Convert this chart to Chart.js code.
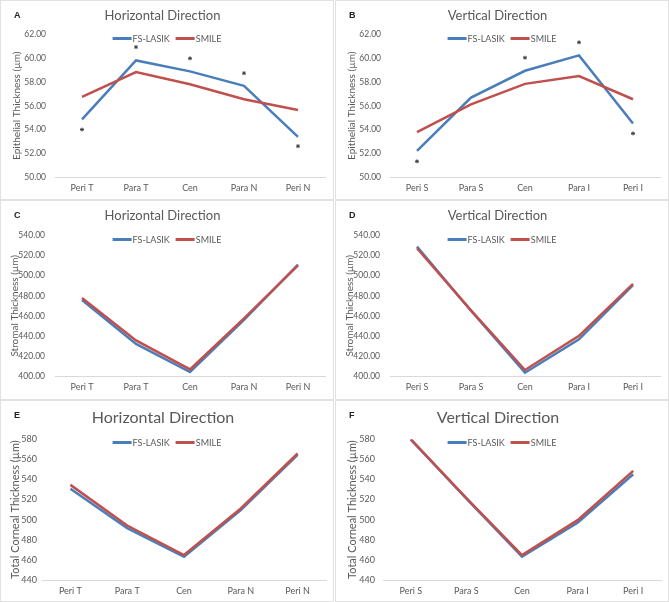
<!DOCTYPE html>
<html>
<head>
<meta charset="utf-8">
<script src="https://cdn.jsdelivr.net/npm/chart.js@4.4.0/dist/chart.umd.min.js"></script>
<style>
  body { margin: 0; background: #fff; }
  #fig { position: relative; width: 669px; height: 602px; overflow: hidden; background: #fff; }
  .frame { position: absolute; border: 1px solid #e2e2e2; box-sizing: border-box; }
  .tag { position: absolute; font: bold 9px 'Liberation Sans', Arial, sans-serif; color: #222; }
  canvas { position: absolute; }
  .legend { position: absolute; display: flex; align-items: center; transform: translateX(-50%);
            font: 9px Lato, 'Open Sans', sans-serif; color: #595959; white-space: nowrap; height: 12px; }
  .legend .sw { display: inline-block; width: 19px; height: 3px; margin-right: 1px; }
  .legend .item { display: flex; align-items: center; margin: 0 3px; }
</style>
</head>
<body>
<div id="fig"></div>
<script>
const horizontalLabels = ['Peri T', 'Para T', 'Cen', 'Para N', 'Peri N'];
const verticalLabels = ['Peri S', 'Para S', 'Cen', 'Para I', 'Peri I'];
const seriesNames = ['FS-LASIK', 'SMILE'];

// epithelial thickness (um)
const epiHorizLasik = [54.85, 59.82, 58.90, 57.68, 53.38];
const epiHorizSmile = [56.75, 58.84, 57.82, 56.55, 55.64];
const epiHorizStars = [54.00, 60.95, 60.00, 58.75, 52.60];
const epiVertLasik = [52.20, 56.69, 58.95, 60.25, 54.51];
const epiVertSmile = [53.78, 56.12, 57.85, 58.50, 56.55];
const epiVertStars = [51.32, null, 60.05, 61.35, 53.67];

// stromal thickness (um)
const stromaHorizLasik = [475.8, 432.0, 404.0, 455.9, 511.0];
const stromaHorizSmile = [477.8, 435.5, 406.6, 457.5, 510.4];
const stromaVertLasik = [529.0, 465.0, 403.3, 436.6, 490.5];
const stromaVertSmile = [527.4, 465.5, 406.0, 440.0, 491.8];

// total corneal thickness (um)
const totalHorizLasik = [530.7, 491.6, 463.1, 509.5, 564.4];
const totalHorizSmile = [534.6, 494.2, 464.8, 511.1, 565.8];
const totalVertLasik = [579.5, 521.0, 463.1, 496.9, 545.2];
const totalVertSmile = [580.0, 521.5, 464.8, 499.5, 548.5];

const epiTicks = { min: 50, max: 62, step: 2, dec: 2 };
const stromaTicks = { min: 400, max: 540, step: 20, dec: 2 };
const totalTicks = { min: 440, max: 580, step: 20, dec: 0 };

const GRAY = '#595959';
const BLUE = '#4a7ebb';
const RED = '#c0504d';
const FONT = 'Lato, "Open Sans", sans-serif';

const fig = document.getElementById('fig');

function addLegend(p) {
  const lg = document.createElement('div');
  lg.className = 'legend';
  lg.style.left = (p.x + p.w / 2) + 'px';
  lg.style.top = (p.y + p.legendY - 6) + 'px';
  lg.innerHTML = seriesNames.map((name, i) =>
    `<span class="item"><span class="sw" style="background:${i ? RED : BLUE}"></span>${name}</span>`).join('');
  fig.appendChild(lg);
}

function makePanel(p) {
  const frame = document.createElement('div');
  frame.className = 'frame';
  frame.style.cssText = `left:${p.x}px;top:${p.y}px;width:${p.w}px;height:${p.h}px`;
  fig.appendChild(frame);

  const canvas = document.createElement('canvas');
  canvas.width = p.w;
  canvas.height = p.h;
  canvas.style.cssText = `left:${p.x}px;top:${p.y}px;width:${p.w}px;height:${p.h}px`;
  fig.appendChild(canvas);

  const tag = document.createElement('div');
  tag.className = 'tag';
  tag.textContent = p.tag;
  tag.style.left = (p.x + 14) + 'px';
  tag.style.top = (p.y + 10) + 'px';
  fig.appendChild(tag);

  addLegend(p);

  const datasets = [
    { label: seriesNames[0], data: p.lasik, borderColor: BLUE, backgroundColor: BLUE, borderWidth: 2.5, pointRadius: 0, tension: 0, order: 2 },
    { label: seriesNames[1], data: p.smile, borderColor: RED, backgroundColor: RED, borderWidth: 2.5, pointRadius: 0, tension: 0, order: 1 }
  ];
  if (p.stars) {
    datasets.push({
      label: '*', data: p.stars, showLine: false, pointStyle: 'star', pointRadius: 2,
      pointBorderWidth: 1, pointBorderColor: '#404040', pointBackgroundColor: '#404040', order: 0
    });
  }

  new Chart(canvas, {
    type: 'line',
    data: { labels: p.labels, datasets },
    options: {
      responsive: false,
      animation: false,
      devicePixelRatio: 1,
      layout: { padding: { left: 0, right: p.rp, top: 0, bottom: 0 } },
      plugins: {
        title: {
          display: true,
          text: p.title,
          color: GRAY,
          font: { family: FONT, size: p.titleSize, weight: 'normal' },
          padding: { top: 8, bottom: p.titleBottom }
        },
        legend: { display: false },
        tooltip: { enabled: false }
      },
      scales: {
        x: {
          offset: true,
          grid: { display: false, drawTicks: false },
          border: { display: true, color: '#d9d9d9', width: 1 },
          ticks: { color: GRAY, font: { family: FONT, size: 9 }, padding: 6, maxRotation: 0, autoSkip: false },
          afterFit: s => { s.height = p.xh; }
        },
        y: {
          min: p.ticks.min,
          max: p.ticks.max,
          grid: { display: false, drawTicks: false },
          border: { display: false },
          ticks: {
            stepSize: p.ticks.step,
            color: GRAY,
            font: { family: FONT, size: p.tickSize },
            padding: p.tickPad,
            callback: v => Number(v).toFixed(p.ticks.dec)
          },
          title: {
            display: true,
            text: p.yTitle,
            color: GRAY,
            font: { family: FONT, size: p.yTitleSize },
            padding: { top: p.yTitlePad, bottom: 0 }
          },
          afterFit: s => { s.width = p.yw; }
        }
      }
    }
  });
}

const row1 = { w: 334, h: 200, rp: 9, yw: 55, xh: 23, tickPad: 9, tickSize: 8.5, titleSize: 13, titleBottom: 11, legendY: 38, yTitleSize: 10, yTitlePad: 11 };
const row2 = { w: 334, h: 200, rp: 9, yw: 55, xh: 24, tickPad: 10, tickSize: 8.5, titleSize: 13, titleBottom: 12, legendY: 39, yTitleSize: 10, yTitlePad: 9 };
const row3 = { w: 334, h: 202, rp: 8, xh: 22, tickSize: 9, titleSize: 16, titleBottom: 12, legendY: 42, yTitleSize: 11 };

makePanel({ ...row1, x: 0, y: 0, tag: 'A', title: 'Horizontal Direction', labels: horizontalLabels,
  lasik: epiHorizLasik, smile: epiHorizSmile, stars: epiHorizStars, ticks: epiTicks, yTitle: 'Epithelial Thickness (µm)' });
makePanel({ ...row1, x: 335, y: 0, tag: 'B', title: 'Vertical Direction', labels: verticalLabels,
  lasik: epiVertLasik, smile: epiVertSmile, stars: epiVertStars, ticks: epiTicks, yTitle: 'Epithelial Thickness (µm)' });
makePanel({ ...row2, x: 0, y: 200, tag: 'C', title: 'Horizontal Direction', labels: horizontalLabels,
  lasik: stromaHorizLasik, smile: stromaHorizSmile, ticks: stromaTicks, yTitle: 'Stromal Thickness (µm)' });
makePanel({ ...row2, x: 335, y: 200, tag: 'D', title: 'Vertical Direction', labels: verticalLabels,
  lasik: stromaVertLasik, smile: stromaVertSmile, ticks: stromaTicks, yTitle: 'Stromal Thickness (µm)' });
makePanel({ ...row3, x: 0, y: 400, yw: 42, tickPad: 5, yTitlePad: 9, tag: 'E', title: 'Horizontal Direction', labels: horizontalLabels,
  lasik: totalHorizLasik, smile: totalHorizSmile, ticks: totalTicks, yTitle: 'Total Corneal Thickness (µm)' });
makePanel({ ...row3, x: 335, y: 400, yw: 48, tickPad: 8, yTitlePad: 11, tag: 'F', title: 'Vertical Direction', labels: verticalLabels,
  lasik: totalVertLasik, smile: totalVertSmile, ticks: totalTicks, yTitle: 'Total Corneal Thickness (µm)' });
</script>
</body>
</html>
